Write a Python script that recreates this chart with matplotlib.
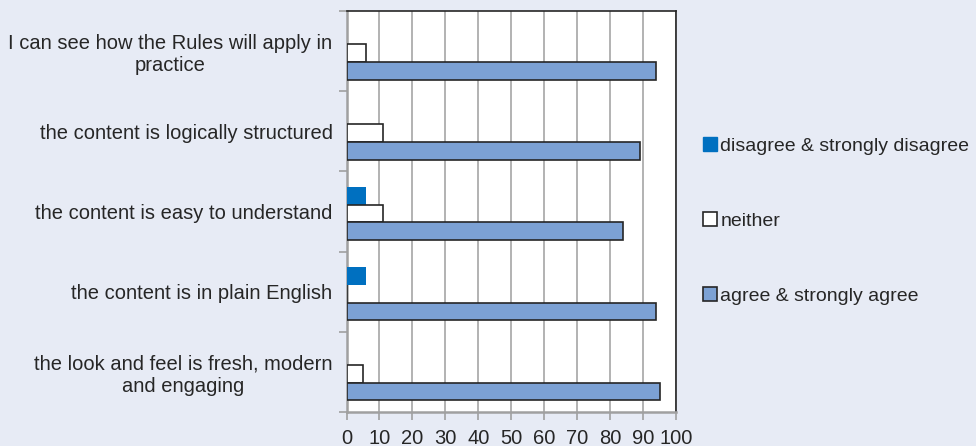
import matplotlib
matplotlib.use("Agg")
import matplotlib.pyplot as plt
from matplotlib.patches import Patch

plt.rcParams['font.family'] = ['Liberation Sans', 'DejaVu Sans']

categories = [
    "I can see how the Rules will apply in\npractice",
    "the content is logically structured",
    "the content is easy to understand",
    "the content is in plain English",
    "the look and feel is fresh, modern\nand engaging",
]
disagree = [0, 0, 6, 6, 0]
neither = [6, 11, 11, 0, 5]
agree = [94, 89, 84, 94, 95]

series_names = ["disagree & strongly disagree", "neither", "agree & strongly agree"]
x_ticks = list(range(0, 101, 10))

BG = '#e7ebf5'
TEXT = '#262626'


def plot_survey():
    fig = plt.figure(figsize=(9.76, 4.46), dpi=100, facecolor=BG)
    ax = fig.add_axes([346.5 / 976, 34 / 446, 329.5 / 976, 401 / 446])

    pos = list(range(len(categories)))
    h = 0.22
    # three bars per category, stacked top to bottom
    ax.barh([p - 0.195 for p in pos], disagree, height=h, color='#0070c0', zorder=3)
    ax.barh([p + 0.025 for p in pos], neither, height=h, color='white',
            edgecolor=TEXT, linewidth=1.2, zorder=3)
    ax.barh([p + 0.245 for p in pos], agree, height=h, color='#7ca1d4',
            edgecolor=TEXT, linewidth=1.2, zorder=3)

    ax.set_xlim(0, 100)
    ax.set_ylim(len(categories) - 0.5, -0.5)
    ax.set_xticks(x_ticks)
    ax.set_xticklabels([str(t) for t in x_ticks], fontsize=14.5, color=TEXT)
    ax.tick_params(axis='x', length=6, width=1.2, color='#a0a0a0', pad=6)

    # boundaries as major ticks, labels on minor ticks
    ax.set_yticks([p - 0.5 for p in range(len(categories) + 1)])
    ax.set_yticklabels([])
    ax.tick_params(axis='y', which='major', length=6, width=1.2, color='#a0a0a0')
    ax.set_yticks(pos, minor=True)
    ax.set_yticklabels(categories, minor=True, fontsize=14.5, color=TEXT,
                       multialignment='center', linespacing=1.2)
    ax.tick_params(axis='y', which='minor', length=0, pad=10)

    ax.grid(True, axis='x', color='#a6a6a6', linewidth=1.2, zorder=0)
    ax.set_axisbelow(True)

    for side in ['left', 'bottom']:
        ax.spines[side].set_color('#a0a0a0')
        ax.spines[side].set_linewidth(1.8)
    for side in ['top', 'right']:
        ax.spines[side].set_color(TEXT)
        ax.spines[side].set_linewidth(1.2)

    handles = [
        Patch(facecolor='#0070c0', edgecolor='#0070c0'),
        Patch(facecolor='white', edgecolor=TEXT, linewidth=1.2),
        Patch(facecolor='#7ca1d4', edgecolor=TEXT, linewidth=1.2),
    ]
    fig.legend(handles, series_names, loc='center left',
               bbox_to_anchor=(703 / 976, 1 - 221 / 446), frameon=False,
               fontsize=14, labelspacing=2.95, handlelength=0.7,
               handleheight=0.7, handletextpad=0.2, borderpad=0,
               borderaxespad=0, labelcolor=TEXT)

    fig.savefig("out.png", dpi=100, facecolor=BG)


plot_survey()
